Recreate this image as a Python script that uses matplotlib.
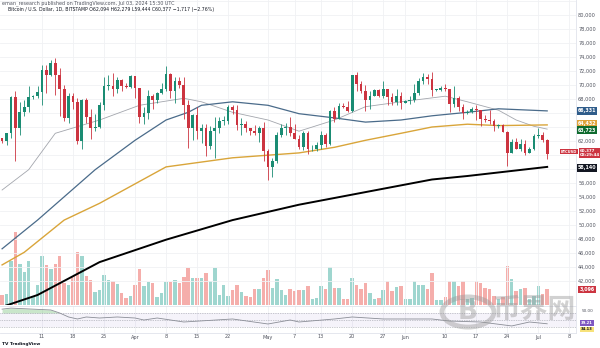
import matplotlib
matplotlib.use("Agg")
import matplotlib.pyplot as plt
import numpy as np
from matplotlib.patches import Circle

# ---- data (BTCUSD daily, Mar 2 - Jul 3 2024, thousands USD) ----
opens = [62.4, 62.0, 63.1, 68.3, 63.8, 66.1, 66.9, 68.3, 68.5, 69.0,
         72.1, 71.5, 73.1, 71.4, 69.4, 65.3, 68.4, 67.6, 62.0, 67.8,
         65.5, 63.8, 64.0, 67.2, 69.9, 69.9, 69.5, 70.7, 69.9, 69.7,
         71.3, 69.6, 65.5, 66.0, 68.5, 67.8, 68.9, 69.4, 71.6, 69.1,
         70.6, 70.0, 67.2, 63.9, 65.7, 63.4, 63.8, 61.3, 63.5, 63.8,
         64.9, 64.9, 66.8, 66.4, 64.3, 64.5, 63.8, 63.4, 63.1, 63.8,
         60.6, 58.3, 59.1, 62.9, 63.9, 64.0, 63.2, 62.3, 61.2, 63.1,
         60.8, 60.8, 61.5, 62.9, 61.6, 66.3, 65.2, 67.0, 66.9, 66.3,
         71.4, 70.1, 69.1, 67.9, 68.5, 69.3, 68.5, 69.4, 68.3, 67.6,
         68.4, 67.5, 67.7, 67.8, 68.8, 70.6, 71.1, 70.8, 69.3, 69.3,
         69.6, 69.5, 67.3, 68.2, 66.8, 66.0, 66.2, 66.6, 66.5, 65.2,
         65.0, 64.9, 64.1, 64.3, 63.3, 60.3, 61.8, 60.9, 61.6, 60.3,
         60.9, 62.7, 62.8, 62.1]
highs = [62.5, 63.2, 68.5, 69.2, 67.6, 67.9, 69.9, 68.6, 69.9, 72.8,
         72.9, 73.6, 73.8, 72.4, 70.0, 68.9, 68.9, 68.1, 68.0, 68.2,
         66.6, 65.9, 67.6, 71.1, 71.5, 71.7, 71.2, 70.9, 70.3, 71.4,
         71.3, 69.6, 66.9, 69.3, 68.7, 69.0, 70.3, 72.7, 71.7, 71.1,
         71.2, 71.2, 67.9, 65.8, 66.9, 64.4, 64.5, 64.1, 65.4, 65.4,
         65.6, 67.2, 67.2, 67.1, 65.3, 64.8, 63.9, 64.3, 64.2, 64.7,
         60.8, 59.6, 63.3, 64.5, 64.6, 65.5, 64.4, 62.9, 63.4, 63.4,
         61.5, 61.8, 63.4, 63.1, 66.4, 66.8, 67.4, 67.4, 67.7, 71.5,
         71.9, 70.6, 70.0, 69.2, 69.5, 69.5, 70.6, 69.5, 68.9, 69.5,
         69.0, 67.8, 68.4, 70.2, 71.0, 71.7, 71.6, 71.9, 69.5, 69.9,
         70.1, 69.5, 69.9, 68.4, 67.3, 66.4, 66.9, 67.2, 66.5, 65.7,
         66.5, 65.1, 64.5, 64.5, 63.4, 62.3, 62.5, 62.3, 62.2, 61.2,
         63.0, 63.8, 63.3, 62.3]
lows = [61.7, 61.4, 62.4, 59.2, 62.9, 65.6, 66.2, 68.0, 68.2, 67.2,
        68.8, 71.3, 68.6, 65.6, 64.8, 64.6, 66.6, 61.6, 60.8, 64.6,
        62.3, 63.4, 63.8, 66.4, 69.3, 68.4, 68.8, 69.1, 69.6, 69.6,
        68.1, 64.6, 64.5, 65.1, 66.6, 67.4, 68.7, 69.1, 68.2, 67.5,
        69.6, 65.1, 61.0, 62.2, 62.3, 61.7, 59.8, 60.8, 59.6, 63.2,
        64.3, 64.5, 65.9, 63.6, 62.8, 63.3, 62.8, 62.9, 61.8, 59.2,
        56.5, 56.9, 58.8, 62.6, 62.9, 62.7, 62.3, 60.9, 60.7, 60.2,
        60.6, 60.6, 60.8, 61.2, 61.4, 64.7, 65.1, 66.7, 66.1, 66.1,
        69.2, 68.9, 66.3, 66.6, 68.5, 68.3, 68.2, 67.2, 67.1, 67.1,
        66.6, 67.4, 67.3, 67.6, 68.6, 70.2, 70.1, 68.5, 69.2, 69.1,
        69.2, 66.1, 66.9, 66.3, 65.1, 65.9, 66.0, 65.0, 64.1, 64.7,
        64.5, 63.4, 63.9, 63.3, 58.4, 60.3, 60.8, 60.6, 60.0, 60.3,
        60.7, 62.5, 61.8, 59.4]
closes = opens[1:] + [60.2]

volumes = [1950, 2280, 8840, 14690, 8320, 6700, 8840, 1820, 3970, 9950,
           8130, 7150, 8320, 9950, 4420, 4100, 5850, 10600, 9950, 5850,
           4940, 2600, 2930, 6050, 5070, 4750, 4290, 2340, 1370, 1820,
           4100, 7150, 3770, 4620, 4420, 1560, 2340, 4620, 4680, 5070,
           4420, 5720, 7350, 5400, 5400, 5400, 6500, 4750, 7540, 2080,
           4100, 1820, 2990, 4100, 2600, 1820, 1690, 3120, 3120, 5530,
           7020, 3450, 5200, 2930, 1950, 3320, 2800, 2990, 2930, 3770,
           1300, 1500, 3770, 3120, 7670, 3450, 3450, 1170, 1170, 5400,
           4100, 3120, 4420, 2470, 1300, 1370, 2990, 4750, 2800, 3580,
           3770, 1300, 1170, 4750, 4100, 4100, 3320, 6370, 980, 980,
           1690, 4880, 4880, 3770, 4810, 1170, 1370, 4880, 4420, 3450,
           3250, 1820, 1300, 1630, 7870, 5270, 2800, 3120, 3450, 1170,
           1820, 3770, 2150, 3120]

# moving averages (day index, value in thousands)
ma20_days = [0, 6, 12, 22, 31, 41, 45, 52, 60, 67, 75, 82, 90, 100, 105, 112, 116, 120, 123]
ma20_vals = [55.0, 57.9, 63.1, 65.0, 67.1, 68.1, 67.6, 66.1, 65.0, 63.4, 65.0, 66.9, 67.6, 68.4, 67.6, 66.4, 65.0, 64.1, 63.7]
ma50_days = [0, 8, 21, 30, 37, 42, 45, 52, 60, 67, 75, 82, 90, 97, 105, 112, 123]
ma50_vals = [46.6, 50.7, 57.9, 62.1, 65.0, 66.1, 67.1, 67.6, 67.1, 65.9, 65.3, 64.7, 65.0, 65.6, 66.1, 66.6, 66.3]
ma100_days = [0, 5, 14, 22, 37, 52, 67, 75, 82, 90, 97, 105, 112, 123]
ma100_vals = [44.3, 46.1, 50.7, 53.1, 58.3, 59.6, 60.3, 61.1, 62.1, 63.1, 64.0, 64.4, 64.2, 64.3]
ma200_days = [0, 8, 22, 37, 52, 67, 82, 97, 105, 123]
ma200_vals = [38.3, 40.0, 44.7, 47.9, 50.7, 52.9, 54.7, 56.5, 57.0, 58.3]

rsi_days = [0, 2, 11, 13, 15, 17, 19, 22, 26, 30, 32, 35, 41, 52, 60, 65, 67, 75, 79, 86, 97, 101, 108, 115, 119, 123]
rsi_vals = [81, 84, 78.6, 70, 58.6, 52.9, 58.6, 55.7, 58.6, 55.7, 50, 55.7, 44.3, 52.9, 38.6, 50, 44.3, 52.9, 58.6, 52.9, 52.9, 47, 44.3, 33, 44.3, 39.2]

xtick_days = [9, 16, 23, 30, 37, 44, 51, 60, 66, 72, 79, 86, 91, 100, 107, 114, 121, 128]
xtick_labels = ["11", "18", "25", "Apr", "8", "15", "22", "May", "7", "13", "20", "27",
                "Jun", "10", "17", "24", "Jul", "8"]

UP = "#1a8c73"
DOWN = "#cc3440"
TXT = "#50535e"
GRID = "#f0f1f4"

fig = plt.figure(figsize=(6, 3.48), dpi=100)
fig.patch.set_facecolor("white")
W, H = 600, 348

ax = fig.add_axes([0, (H - 305) / H, 576 / W, 305 / H])
axr = fig.add_axes([0, (H - 333) / H, 576 / W, 27 / H])

o = np.array(opens) * 1000
c = np.array(closes) * 1000
hi = np.array(highs) * 1000
lo = np.array(lows) * 1000
days = np.arange(len(o))
up = c >= o
xmin, xmax = -0.47, 129.5

# volume on its own scale, sitting at the bottom of the main pane
axv = ax.twinx()
axv.bar(days, volumes, width=0.78, color=np.where(up, "#9fd6cf", "#f5aeab"), zorder=1)
axv.set_ylim(0, max(volumes) * 305 / 73)
axv.set_xlim(xmin, xmax)
axv.axis("off")
ax.set_zorder(axv.get_zorder() + 1)
ax.patch.set_visible(False)

# candles
colors = np.where(up, UP, DOWN)
ax.vlines(days, lo, hi, color=colors, linewidth=0.6, zorder=3)
ax.bar(days, np.maximum(np.abs(c - o), 60), bottom=np.minimum(o, c), width=0.62,
       color=colors, zorder=4)

# moving averages
ax.plot(ma20_days, np.array(ma20_vals) * 1000, color="#a3a6ad", linewidth=0.6, zorder=2)
ax.plot(ma50_days, np.array(ma50_vals) * 1000, color="#4a6b8a", linewidth=0.9, zorder=2)
ax.plot(ma100_days, np.array(ma100_vals) * 1000, color="#d9a53a", linewidth=1.0, zorder=2)
ax.plot(ma200_days, np.array(ma200_vals) * 1000, color="#000000", linewidth=1.4, zorder=2)

ytop = 74000 + 57 / 7 * 1000
ybot = 74000 - 248 / 7 * 1000
ax.set_ylim(ybot, ytop)
ax.set_xlim(xmin, xmax)

# grid
for p in range(42000, 82001, 2000):
    ax.axhline(p, color=GRID, linewidth=0.6, zorder=0)
for d in xtick_days:
    ax.axvline(d, color=GRID, linewidth=0.6, zorder=0)
    axr.axvline(d, color=GRID, linewidth=0.6, zorder=0)

ax.set_xticks([])
ax.set_yticks([])
for s in ax.spines.values():
    s.set_visible(False)
ax.spines["right"].set_visible(True)
ax.spines["right"].set_color("#e0e3eb")
ax.spines["right"].set_linewidth(0.6)

LABX = 1.0 + 11 / 576

# price labels
hidden = {66000, 64000, 60000, 58000}
for p in range(42000, 80001, 2000):
    if p in hidden:
        continue
    ax.text(LABX, p, f"{p:,}", transform=ax.get_yaxis_transform(),
            fontsize=3.6, color=TXT, ha="center", va="center", clip_on=False)


def tag(axis, y, text, fc, tc="white", x=LABX, fs=3.4, ha="center"):
    axis.text(x, y, text, transform=axis.get_yaxis_transform(), fontsize=fs, color=tc,
              ha=ha, va="center", clip_on=False, fontweight="bold",
              bbox=dict(boxstyle="square,pad=0.25", fc=fc, ec="none"))


tag(ax, ma50_vals[-1] * 1000, "66,331", "#2f5c8a")
tag(ax, 64450, "64,432", "#e0a33a")
tag(ax, ma20_vals[-1] * 1000 - 150, "63,723", "#0f6b2f")
tag(ax, c[-1] + 100, "60,377\n08:29:44", DOWN, fs=2.9, x=1.0 + 4 / 576, ha="left")
tag(ax, c[-1] + 300, "BTCUSD", DOWN, x=1.0 + 1 / 576, fs=2.6, ha="right")
tag(ax, ma200_vals[-1] * 1000 - 150, "58,140", "#131722")
tag(axv, volumes[-1], "3,096", "#cc3440")

# RSI pane
axr.set_xlim(xmin, xmax)
axr.set_ylim(30 - 6 / 0.35, 70 + 7 / 0.35)
axr.axhspan(30, 70, color="#7e57c2", alpha=0.07, linewidth=0)
for lvl in (70, 50, 30):
    axr.axhline(lvl, color="#9598a1", linewidth=0.5, linestyle=(0, (1, 1.5)))
rd = np.array(rsi_days)
rv = np.array(rsi_vals)
axr.plot(rd, rv, color="#8a8d96", linewidth=0.6)
axr.fill_between(rd, rv, 70, where=rv > 70, color="#4caf50", alpha=0.3, linewidth=0,
                 interpolate=True)
axr.set_xticks([])
axr.set_yticks([])
for side, s in axr.spines.items():
    s.set_visible(side != "left")
    s.set_color("#e0e3eb")
    s.set_linewidth(0.6)
axr.text(LABX, 76, "50.00", transform=axr.get_yaxis_transform(), fontsize=3.0,
         color=TXT, ha="center", va="center", clip_on=False)
tag(axr, 42, "39.21", "#7e57c2", fs=2.7)
tag(axr, 23, "34.13", "#f7e27a", tc="#131722", fs=2.7)

# time axis labels
for d, lab in zip(xtick_days, xtick_labels):
    fig.text((2.1 + d * 4.43) / W, 1 - 337 / H, lab, fontsize=3.6, color=TXT,
             ha="center", va="center")

# header and footer
fig.text(2 / W, 1 - 3 / H, "eman_research published on TradingView.com, Jul 03, 2024 15:30 UTC",
         fontsize=3.5, color=TXT, ha="left", va="center")
fig.text(8 / W, 1 - 9.5 / H,
         "Bitcoin / U.S. Dollar, 1D, BITSTAMP O62,094 H62,279 L59,444 C60,377 \u22121,717 (\u22122.76%)",
         fontsize=3.3, color="#131722", ha="left", va="center")
fig.text(2 / W, 1 - 344 / H, "TV TradingView", fontsize=3.2, color="#131722",
         ha="left", va="center", fontweight="bold")

# watermark
fig.patches.append(Circle((468 / W, 1 - 312 / H), 26 / W, transform=fig.transFigure,
                          fill=False, ec="#9a9a9a", lw=3.5, alpha=0.45))
fig.text(468 / W, 1 - 312 / H, "B", fontsize=19, color="#9a9a9a", alpha=0.45,
         ha="center", va="center", fontweight="bold")
fig.text(534 / W, 1 - 310 / H, "币界网", fontsize=20, color="#9a9a9a", alpha=0.45,
         ha="center", va="center", family=["Noto Sans CJK SC", "DejaVu Sans"],
         fontweight="bold")

fig.savefig("out.png", dpi=100)
